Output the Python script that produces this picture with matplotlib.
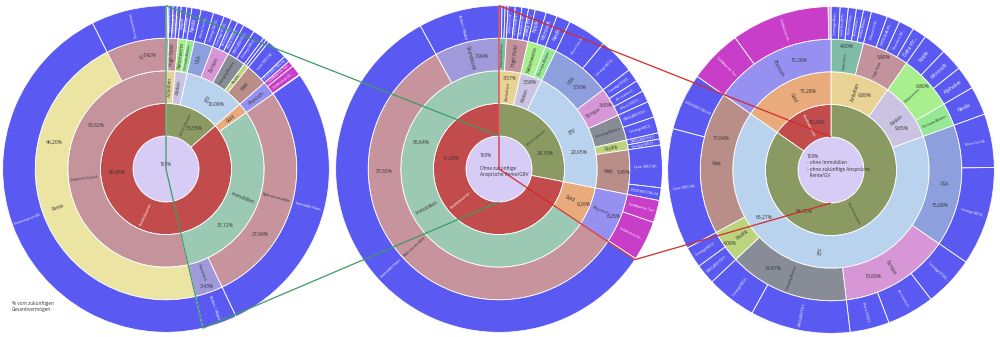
import numpy as np
import matplotlib.pyplot as plt
from matplotlib.patches import Wedge, Circle

plt.rcParams["font.family"] = ["Open Sans", "DejaVu Sans"]

# -----------------------------
# Data (percent, clockwise from 12 o'clock)
# -----------------------------
# left: % of future total assets
L1_NAMES = ["Sicherheitsbaustein", "Renditebaustein"]
L1_PCT = [13.55, 86.45]
L2_NAMES = ["Anleihen", "Aktien", "ETF", "Gold", "Immobilien", "Ansprüche Zukunft"]
L2_PCT = [1.50, 1.97, 10.08, 1.71, 31.12, 53.62]
L3_NAMES = ["Staatsanleihen", "High Yield", "Nebenwerte", "Europa Aktien", "USA", "Europa",
            "Emerging Markets", "Pazifik", "Welt", "Physisch", "Wohnimmobilie", "Grundstück",
            "Rente", "LV"]
L3_PCT = [0.30, 1.20, 1.05, 0.92, 2.33, 2.10, 2.30, 0.63, 2.72, 1.71, 27.69, 3.43, 46.20, 7.42]
L4_NAMES = ["Comstage iBoxx...", "Lyxor EuroMTS...",
            "iShares € HY...", "SPDR BofA HY...", "Xtrackers HY...",
            "Apple", "Microsoft", "Nestlé",
            "iShares Core S&...", "Comstage S&P 50...",
            "Comstage STOXX...", "db x-trackers E...", "iShares STOXX E...",
            "VANGUARD FTSE E...", "Comstage MSCI E...",
            "VANGUARD FTSE P...", "Comstage MSCI P...",
            "Lyxor MSCI W...", "SPDR MSCI World",
            "Goldbarren 1oz", "Goldmünzen Kr...", "Goldschmuck",
            "Immobilie Haus", "Acker / Wald", "Rentenanspruch GRV", "Lebensversicherung"]
L4_PCT = [0.15, 0.15, 0.40, 0.40, 0.40, 0.55, 0.50, 0.92, 1.25, 1.08, 0.78, 0.66, 0.66,
          1.16, 1.14, 0.31, 0.32, 2.10, 0.62, 0.60, 1.05, 0.06, 27.69, 3.43, 46.20, 7.42]

# middle: without future pension claims
M1_NAMES = ["Sicherheitsbaustein", "Renditebaustein"]
M1_PCT = [28.10, 71.90]
M2_NAMES = ["Anleihen", "Aktien", "ETF", "Gold", "Immobilien"]
M2_PCT = [3.57, 3.58, 20.95, 6.26, 65.64]
M3_NAMES = ["Staatsanleihen", "High Yield", "Nebenwerte", "Europa Aktien", "USA", "Europa",
            "Emerging Markets", "Pazifik", "Welt", "Physisch", "Wohnimmobilie", "Grundstück"]
M3_PCT = [0.90, 2.67, 2.20, 1.38, 7.50, 3.60, 3.20, 1.20, 5.45, 6.26, 57.65, 7.99]
M4_NAMES = ["Comstage iBoxx...", "Lyxor EuroMTS...", "iShares € Govt...",
            "iShares € HY...", "SPDR BofA HY...", "Xtrackers HY...", "Deka HY...",
            "Apple", "Microsoft", "Nestlé",
            "iShares Core S&...", "Comstage S&P 50...",
            "Comstage STOXX...", "db x-trackers E...", "iShares STOXX E...",
            "VANGUARD FTSE E...", "Comstage MSCI E...",
            "VANGUARD FTSE P...", "Comstage MSCI P...",
            "Lyxor MSCI W...", "SPDR MSCI World",
            "Goldbarren 1oz", "Goldmünzen Kr...", "Goldschmuck",
            "Immobilie Haus", "Acker / Wald"]
M4_PCT = [0.30, 0.30, 0.30, 0.70, 0.65, 0.66, 0.66, 1.10, 1.10, 1.38, 3.90, 3.60,
          1.30, 1.15, 1.15, 1.60, 1.60, 0.60, 0.60, 4.20, 1.25, 2.20, 3.94, 0.12,
          57.65, 7.99]

# right: without real estate and pension claims
R1_NAMES = ["Sicherheitsbaustein", "Renditebaustein"]
R1_PCT = [84.72, 15.28]
R2_NAMES = ["Anleihen", "Aktien", "ETF", "Gold"]
R2_PCT = [9.80, 9.65, 65.27, 15.28]
R3_NAMES = ["Staatsanleihen", "High Yield", "Nebenwerte", "Europa Aktien", "USA", "Europa",
            "Emerging Markets", "Pazifik", "Welt", "Physisch"]
R3_PCT = [4.00, 5.80, 6.80, 2.85, 15.08, 13.60, 14.87, 4.08, 17.64, 15.28]
R4_NAMES = ["Comstage iBoxx...", "Lyxor EuroMTS...", "iShares € Govt...", "db x-trackers II...",
            "Deka iBoxx...",
            "iShares € HY...", "SPDR BofA HY...", "Xtrackers HY...", "Deka HY...",
            "Apple", "Microsoft", "Alphabet", "Nestlé",
            "iShares Core S&...", "Comstage S&P 50...",
            "Comstage STOXX...", "db x-trackers E...", "iShares STOXX E...",
            "VANGUARD FTSE E...", "Comstage MSCI E...",
            "VANGUARD FTSE P...", "Comstage MSCI P...",
            "Lyxor MSCI W...", "SPDR MSCI World",
            "Goldbarren 1oz", "Goldmünzen Kr...", "Goldschmuck"]
R4_PCT = [0.90, 0.80, 0.80, 0.70, 0.80, 1.60, 1.30, 1.50, 1.40, 2.30, 2.20, 2.30, 2.85,
          5.30, 9.78, 5.00, 4.70, 3.90, 9.90, 4.97, 2.00, 2.08, 12.00, 5.64, 5.30, 9.70, 0.28]

CENTER_LEFT = "100%"
CENTER_MID = "100%\n\nOhne zukünftige\nAnsprüche Rente/GRV"
CENTER_RIGHT = "100%\n- ohne Immobilien\n- ohne zukünftige Ansprüche\n  Rente/GV"
NOTE = "% vom zukünftigen\nGesamtvermögen"

# -----------------------------
# Styling
# -----------------------------
FUND_BLUE = "#5a5af3"
CENTER_COLOR = "#d6ccf6"
COLORS = {
    "Sicherheitsbaustein": "#8a9a62",
    "Renditebaustein": "#c24b4b",
    "Anleihen": "#e8d294",
    "Aktien": "#cac3e2",
    "ETF": "#b9d2ee",
    "Gold": "#e9aa7c",
    "Immobilien": "#9cc9b3",
    "Ansprüche Zukunft": "#c5939b",
    "Staatsanleihen": "#80bda8",
    "High Yield": "#c3929c",
    "Nebenwerte": "#a8f08e",
    "Europa Aktien": "#94e896",
    "USA": "#8d9fdd",
    "Europa": "#d796d6",
    "Emerging Markets": "#878c97",
    "Pazifik": "#bdd47f",
    "Welt": "#b98e89",
    "Physisch": "#9690f0",
    "Wohnimmobilie": "#c7939c",
    "Grundstück": "#a099da",
    "Rente": "#ebe4a3",
    "LV": "#c6929b",
    "Goldbarren 1oz": "#c83ec8",
    "Goldmünzen Kr...": "#c83ec8",
    "Goldschmuck": "#e2a4dc",
}
WHITE_TEXT = {"Renditebaustein"}
R_CENTER = 33.0
RING_W = 32.6
PCT_FS = 3.6
NAME_FS = 3.4


def fmt_pct(v):
    return f"{v:.2f}%".replace(".", ",")


def upright(angle):
    rot = angle % 360
    if 90 < rot <= 270:
        rot -= 180
    return rot


def sunburst(ax, cx, cy, rings, center_text, center_dx=0.0):
    ax.add_patch(Circle((cx, cy), R_CENTER, fc=CENTER_COLOR, ec="white", lw=0.6, zorder=2))
    ha = "center" if center_dx == 0 else "left"
    ax.text(cx + center_dx, cy + 4, center_text, fontsize=3.4, ha=ha, va="center",
            color="#333333", zorder=4, linespacing=1.3)

    for level, (names, values) in enumerate(rings):
        r_in = R_CENTER + level * RING_W
        r_out = r_in + RING_W
        r_mid = (r_in + r_out) / 2
        start = 0.0
        for name, v in zip(names, values):
            t2 = 90 - start * 3.6
            t1 = 90 - (start + v) * 3.6
            start += v
            ax.add_patch(Wedge((cx, cy), r_out, t1, t2, width=RING_W,
                               fc=COLORS.get(name, FUND_BLUE), ec="white", lw=0.6, zorder=2))
            span = t2 - t1
            mid = (t1 + t2) / 2
            arc = np.radians(span) * r_mid

            show_pct = level < 3 and span >= 12
            name_r, avail = r_mid, 0.85 * RING_W
            if show_pct and span < 25:
                name_r, avail = r_in + 0.36 * RING_W, 0.6 * RING_W
                pct_a, pct_r = mid, r_in + 0.8 * RING_W
            else:
                pct_a, pct_r = mid - 0.2 * span, r_mid

            # radial name label, shrunk to fit the ring
            if arc >= 3.5:
                fs = min(NAME_FS, avail / (len(name) * 0.55 * 1.389), arc / 1.7)
                if fs >= 1.3:
                    col = "white" if (level == 3 or name in WHITE_TEXT) else "#333333"
                    a = np.radians(mid)
                    ax.text(cx + name_r * np.cos(a), cy + name_r * np.sin(a), name,
                            fontsize=fs, rotation=upright(mid), rotation_mode="anchor",
                            ha="center", va="center", color=col, zorder=4)
            if show_pct:
                a = np.radians(pct_a)
                ax.text(cx + pct_r * np.cos(a), cy + pct_r * np.sin(a), fmt_pct(v),
                        fontsize=PCT_FS, ha="center", va="center", color="#333333", zorder=4)


def link(ax, c_from, c_to, cut_pct, color):
    R = R_CENTER + 4 * RING_W
    th = np.radians(90 - cut_pct * 3.6)
    top = (c_from[0], c_from[1] + R)
    end = (c_from[0] + R * np.cos(th), c_from[1] + R * np.sin(th))
    kw = dict(color=color, lw=0.9, zorder=5, solid_capstyle="butt")
    ax.plot([top[0], c_from[0], end[0]], [top[1], c_from[1], end[1]], **kw)
    ax.plot([top[0], c_to[0]], [top[1], c_to[1] + R_CENTER], **kw)
    ax.plot([end[0], c_to[0]], [end[1], c_to[1] - R_CENTER], **kw)


# -----------------------------
# Figure
# -----------------------------
fig = plt.figure(figsize=(10, 3.37), dpi=100)
ax = fig.add_axes([0, 0, 1, 1])
ax.set_xlim(0, 1000)
ax.set_ylim(0, 337)
ax.set_aspect("equal")
ax.axis("off")

c_left, c_mid, c_right = (166, 168), (499, 168), (831, 167)

sunburst(ax, *c_left, [(L1_NAMES, L1_PCT), (L2_NAMES, L2_PCT), (L3_NAMES, L3_PCT),
                       (L4_NAMES, L4_PCT)], CENTER_LEFT)
sunburst(ax, *c_mid, [(M1_NAMES, M1_PCT), (M2_NAMES, M2_PCT), (M3_NAMES, M3_PCT),
                      (M4_NAMES, M4_PCT)], CENTER_MID, center_dx=-19)
sunburst(ax, *c_right, [(R1_NAMES, R1_PCT), (R2_NAMES, R2_PCT), (R3_NAMES, R3_PCT),
                        (R4_NAMES, R4_PCT)], CENTER_RIGHT, center_dx=-24)

# drill-down outlines: everything except the last ring-2 block goes to the next chart
link(ax, c_left, c_mid, 100 - L2_PCT[-1], "#3c9c64")
link(ax, c_mid, c_right, 100 - M2_PCT[-1], "#d42a2a")

ax.text(12, 36, NOTE, fontsize=3.4, ha="left", va="top", color="#333333")

fig.savefig("out.png", dpi=100)
